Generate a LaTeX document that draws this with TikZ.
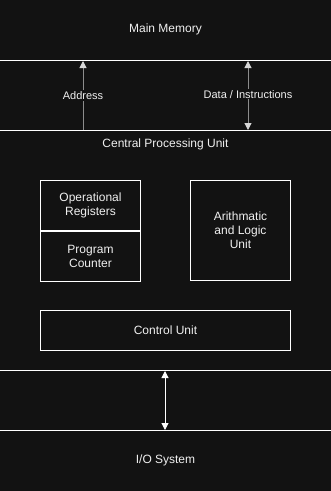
\documentclass[tikz,border=0pt]{standalone}
\usepackage{fontspec}
\setmainfont{Liberation Sans}
\usepackage{xcolor}
\usepackage{tikz}
\usetikzlibrary{arrows.meta,positioning,calc}
\definecolor{qbg}{RGB}{18,18,18}
\definecolor{qtext}{RGB}{240,240,240}
\definecolor{qgray}{RGB}{140,140,140}
\definecolor{qhead}{RGB}{215,215,215}

\begin{document}
\begin{tikzpicture}[x=1pt,y=-1pt,node distance=0pt,
  box/.style={draw=white,fill=qbg,line width=1pt,text=qtext,align=center,font=\fontsize{12}{14}\selectfont,inner sep=0pt},
  wide/.style={box,minimum width=350pt},
  inner/.style={box,minimum width=100pt,minimum height=50pt},
  lbl/.style={fill=qbg,text=qtext,font=\fontsize{11}{13}\selectfont,inner sep=1pt},
  garr/.style={line width=1pt,qgray,-{Triangle[length=7pt,width=7pt,color=qhead,fill=qhead]}},
  garrb/.style={garr,{Triangle[length=7pt,width=7pt,color=qhead,fill=qhead]}-{Triangle[length=7pt,width=7pt,color=qhead,fill=qhead]}},
  warr/.style={line width=1pt,white,{Triangle[length=7pt,width=7pt]}-{Triangle[length=7pt,width=7pt]}}]
\fill[qbg] (0,0) rectangle (331,491);
\useasboundingbox (0,0) rectangle (331,491);
\node[wide,minimum height=80pt] (mem) at (165.5,20.5) {};
\node[text=qtext,font=\fontsize{12}{14}\selectfont] at (165.5,29) {Main Memory};
\node[wide,minimum height=240pt] (cpu) at (165.5,250.5) {};
\node[text=qtext,font=\fontsize{12}{14}\selectfont] at (165.5,144) {Central Processing Unit};
\node[wide,minimum height=80pt] (io) at (165.5,470.5) {};
\node[text=qtext,font=\fontsize{12}{14}\selectfont] at (165.5,460) {I/O System};
% inside the cpu
\node[inner] (reg) at (90.5,205.5) {Operational\\Registers};
\node[inner,below=of reg] (pc) {Program\\Counter};
\node[inner,minimum height=100pt] (alu) at (240.5,230.5) {Arithmatic\\and Logic\\Unit};
\node[box,minimum width=250pt,minimum height=40pt] (cu) at (165.5,330.5) {Control Unit};
% buses
\coordinate (ad) at (83,0);
\coordinate (di) at (248,0);
\coordinate (bi) at (165,0);
\draw[garr] (cpu.north -| ad) -- node[lbl,pos=0.5] {Address} (mem.south -| ad);
\draw[garrb] (cpu.north -| di) -- node[lbl,pos=0.52] {Data / Instructions} (mem.south -| di);
\draw[warr] (cpu.south -| bi) -- (io.north -| bi);
\end{tikzpicture}
\end{document}
